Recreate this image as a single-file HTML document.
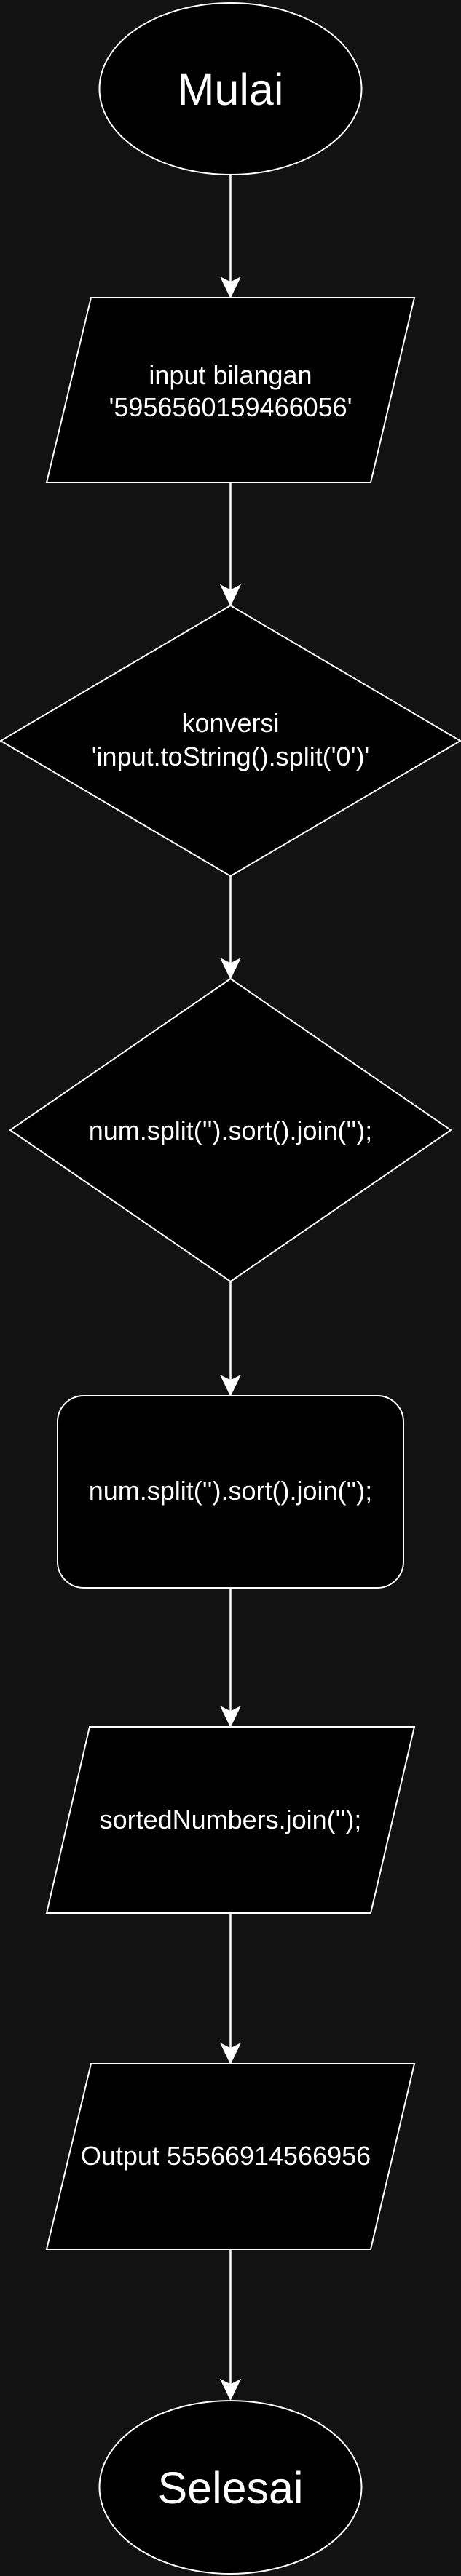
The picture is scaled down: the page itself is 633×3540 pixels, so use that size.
<!DOCTYPE html>
<html><head><meta charset="utf-8"><style>html,body{margin:0;padding:0;background:#121212}svg{display:block}</style></head>
<body>
<svg width="633" height="3540" viewBox="0 0 633 3540" xmlns="http://www.w3.org/2000/svg" font-family="Liberation Sans, Arial, sans-serif">
<rect width="633" height="3540" fill="#121212"/>
<g fill="#000" stroke="#fff" stroke-width="2">
<ellipse cx="316.5" cy="122" rx="180" ry="118"/>
<polygon points="125,409 569,409 509,663 64,663"/>
<polygon points="316.5,832 632,1018 316.5,1204 1,1018"/>
<polygon points="316.5,1345 619,1553 316.5,1761 14,1553"/>
<rect x="79" y="1918" width="475" height="264" rx="36" ry="36"/>
<polygon points="123,2373 569,2373 509,2629 64,2629"/>
<polygon points="125,2836 569,2836 509,3091 64,3091"/>
<ellipse cx="316.5" cy="3418" rx="180" ry="119"/>
</g>
<g stroke="#fff" stroke-width="2.5" fill="none">
<line x1="316.5" y1="240" x2="316.5" y2="398"/>
<line x1="316.5" y1="663" x2="316.5" y2="821"/>
<line x1="316.5" y1="1204" x2="316.5" y2="1334"/>
<line x1="316.5" y1="1761" x2="316.5" y2="1907"/>
<line x1="316.5" y1="2182" x2="316.5" y2="2362"/>
<line x1="316.5" y1="2629" x2="316.5" y2="2825"/>
<line x1="316.5" y1="3091" x2="316.5" y2="3287"/>
</g>
<g fill="#fff" stroke="#fff" stroke-width="1">
<polygon points="316.5,409 303,381 316.5,388 330,381"/>
<polygon points="316.5,832 303,804 316.5,811 330,804"/>
<polygon points="316.5,1345 303,1317 316.5,1324 330,1317"/>
<polygon points="316.5,1918 303,1890 316.5,1897 330,1890"/>
<polygon points="316.5,2373 303,2345 316.5,2352 330,2345"/>
<polygon points="316.5,2836 303,2808 316.5,2815 330,2808"/>
<polygon points="316.5,3298 303,3270 316.5,3277 330,3270"/>
</g>
<g fill="#fff" text-anchor="middle" font-size="36">
<text x="316.5" y="144" font-size="61">Mulai</text>
<text x="316.5" y="528">input bilangan</text>
<text x="316.5" y="572">'5956560159466056'</text>
<text x="316.5" y="1006">konversi</text>
<text x="316.5" y="1052">'input.toString().split('0')'</text>
<text x="316.5" y="1566">num.split('').sort().join('');</text>
<text x="316.5" y="2061">num.split('').sort().join('');</text>
<text x="316.5" y="2513">sortedNumbers.join('');</text>
<text x="310" y="2975">Output 55566914566956</text>
<text x="316.5" y="3440" font-size="61">Selesai</text>
</g>
</svg>
</body></html>
